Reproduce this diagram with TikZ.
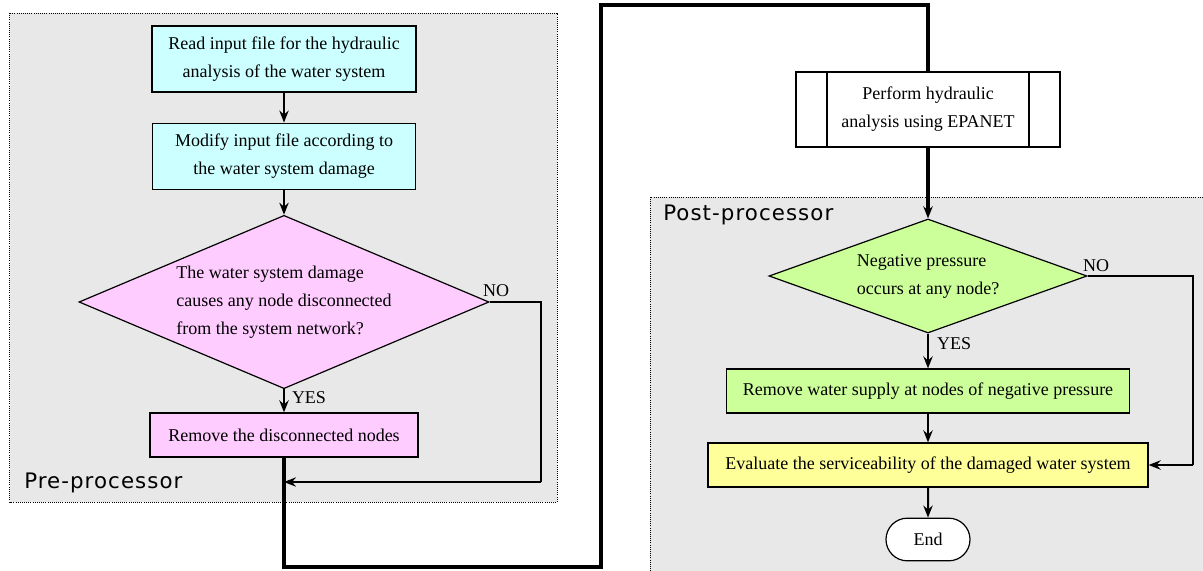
\documentclass[tikz,border=0pt]{standalone}
\usepackage{fontspec}
\setmainfont{Liberation Serif}
\newfontfamily\partfont[LetterSpace=5]{DejaVu Sans}
\usetikzlibrary{shapes.geometric,shapes.misc,arrows.meta}

\definecolor{partgray}{HTML}{E8E8E8}
\definecolor{prepcyan}{HTML}{CCFFFF}
\definecolor{preppink}{HTML}{FFCCFF}
\definecolor{postgreen}{HTML}{CCFF99}
\definecolor{postyellow}{HTML}{FFFF99}

\begin{document}
\begin{tikzpicture}[x=0.75pt,y=-0.75pt,
  txt/.style={font=\fontsize{13.5}{21}\selectfont},
  proc/.style={txt, draw, line width=0.9pt, align=center, inner sep=0pt},
  decision/.style={txt, diamond, draw, line width=0.9pt, align=left, inner sep=0pt},
  flow/.style={-{Stealth[length=9pt,width=7pt,inset=3pt]}, line width=1.5pt},
  bus/.style={line width=2.6pt},
  branch/.style={line width=0.9pt},
  partedge/.style={densely dotted, line width=0.6pt},
  parttitle/.style={font=\partfont\fontsize{16}{16}\selectfont, anchor=west, inner sep=0pt},
  answer/.style={font=\fontsize{13.5}{15}\selectfont, inner sep=0pt}]
\useasboundingbox (0,0) rectangle (1203,571);

% pre-processor area
\fill[partgray] (9.6,13) rectangle (557,502);
\draw[partedge] (9.6,13) rectangle (557,502);
\node[parttitle] (prelabel) at (24,483) {Pre-processor};

% post-processor area
\fill[partgray] (650,197) rectangle (1203,571);
\draw[partedge] (650,571) -- (650,197) -- (1203,197);
\node[parttitle] (postlabel) at (663,215) {Post-processor};

% pre-processor steps
\node (B1) at (284,59) [proc, fill=prepcyan, minimum width=198pt, minimum height=49.5pt]
  {Read input file for the hydraulic\\analysis of the water system};
\node (B2) at (284,156.5) [proc, fill=prepcyan, minimum width=197pt, minimum height=50pt]
  {Modify input file according to\\the water system damage};
\node (D1) at (284,302) [decision, aspect=2.37, fill=preppink, minimum width=307.5pt, minimum height=130pt]
  {The water system damage\\causes any node disconnected\\from the system network?};
\node (B3) at (284,435) [proc, fill=preppink, minimum width=201pt, minimum height=33pt]
  {Remove the disconnected nodes};

% EPANET run
\node (SUB) at (928,109.5) [proc, line width=1.8pt, minimum width=198pt, minimum height=56pt]
  {Perform hydraulic\\analysis using EPANET};
\draw[line width=1.8pt] ([xshift=24pt]SUB.north west) -- ([xshift=24pt]SUB.south west);
\draw[line width=1.8pt] ([xshift=-24pt]SUB.north east) -- ([xshift=-24pt]SUB.south east);

% post-processor steps
\node (D2) at (928,276) [decision, aspect=2.79, fill=postgreen, minimum width=238.5pt, minimum height=85.5pt]
  {Negative pressure\\occurs at any node?};
\node (B4) at (928,391) [proc, fill=postgreen, minimum width=302pt, minimum height=33pt]
  {Remove water supply at nodes of negative pressure};
\node (B5) at (928,465) [proc, fill=postyellow, minimum width=330pt, minimum height=33pt]
  {Evaluate the serviceability of the damaged water system};
\node (E) at (928,539.5) [proc, rounded rectangle, fill=white, minimum width=63pt, minimum height=32pt] {End};

% pre-processor connections
\draw[flow] (B1) -- (B2);
\draw[flow] (B2) -- (D1);
\draw[flow] (D1) -- (B3);
\node[answer] (Y1) at (309,398) {YES};
\node[answer] (N1) at (496,291) {NO};
\coordinate (N1turn) at (541,482);
\coordinate (N1join) at (284,482);
\draw[branch] (D1.east) -| (N1turn);
\draw[flow, line width=1.9pt] (N1turn) -- (N1join);

% link to EPANET
\coordinate (busLow) at (601,567);
\coordinate (busHigh) at (601,5);
\draw[bus] (B3.south) |- (busLow) -- (busHigh) -| (SUB.north);
\draw[flow, bus] (SUB) -- (D2);

% post-processor connections
\draw[flow] (D2) -- (B4);
\draw[flow] (B4) -- (B5);
\draw[flow] (B5) -- (E);
\node[answer] (Y2) at (954,344) {YES};
\node[answer] (N2) at (1096,266) {NO};
\coordinate (N2turn) at (1193,465);
\draw[branch] (D2.east) -| (N2turn);
\draw[flow, line width=1.9pt] (N2turn) -- (B5.east);

\end{tikzpicture}
\end{document}
